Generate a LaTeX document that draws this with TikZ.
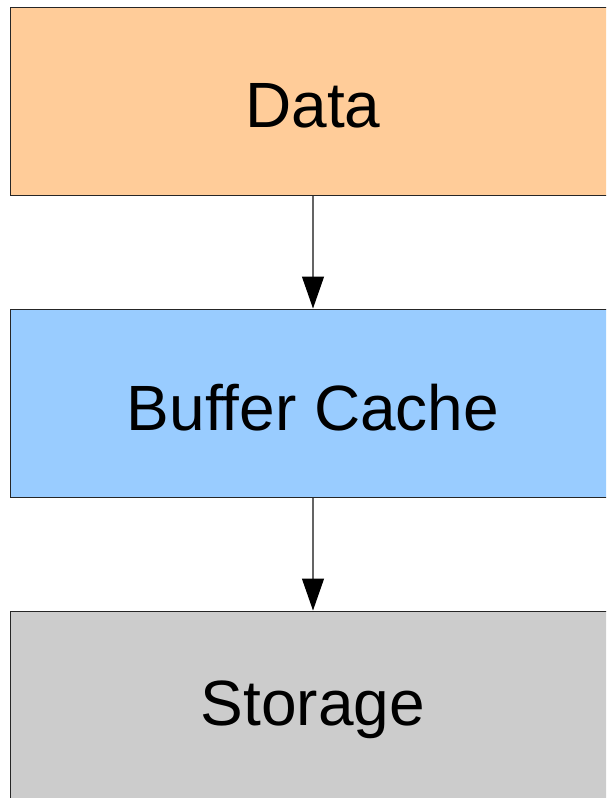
\documentclass[tikz,border=0pt]{standalone}
\usepackage{fontspec}
\setmainfont{Liberation Sans}
\usetikzlibrary{arrows.meta}
\definecolor{datafill}{RGB}{255, 204, 153}
\definecolor{cachefill}{RGB}{153, 204, 255}
\definecolor{storefill}{RGB}{204, 204, 204}
\definecolor{edgegray}{RGB}{100, 100, 100}

\begin{document}
\begin{tikzpicture}[x=1pt, y=-1pt, >={Triangle[length=32pt, width=22pt, color=black]}]
  \tikzset{layer/.style={draw=black!85, line width=1pt, minimum width=606pt, minimum height=188pt,
    inner sep=0pt, font=\fontsize{64}{76}\selectfont},
    label text/.style={font=\fontsize{64}{76}\selectfont, yshift=-5pt}}
  % Frame of the picture
  \useasboundingbox (0, 0) rectangle (606, 798);
  \clip (0, 0) rectangle (606, 798);
  
  % Layers
  \node[layer, fill=datafill] (data) at (313, 101) {};
  \node[layer, fill=cachefill] (cache) at (313, 403) {};
  \node[layer, fill=storefill] (storage) at (313, 705) {};
  
  % Layer names
  \node[label text] (datatext) at (data.center) {Data};
  \node[label text] (cachetext) at (cache.center) {Buffer Cache};
  \node[label text] (storagetext) at (storage.center) {Storage};
  
  % Arrows between layers
  \draw[->, edgegray, line width=1.2pt] (data) -- (cache);
  \draw[->, edgegray, line width=1.2pt] (cache) -- (storage);
\end{tikzpicture}
\end{document}
